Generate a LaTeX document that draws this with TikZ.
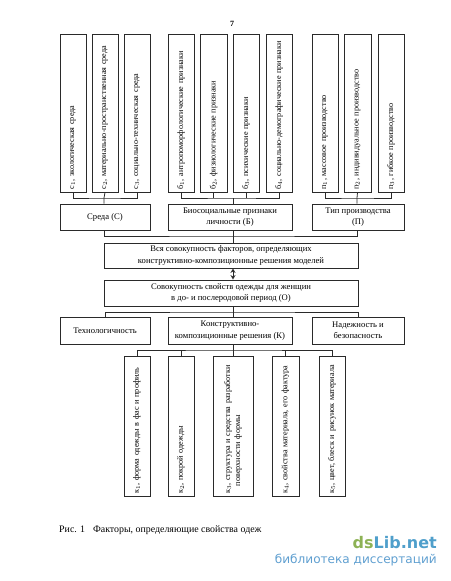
\documentclass[tikz,border=0pt]{standalone}
\usepackage{fontspec}
\setmainfont{Liberation Serif}
\newfontfamily\logofont{DejaVu Sans}
\definecolor{lineink}{HTML}{2A2A2A}
\definecolor{logogreen}{HTML}{8DB255}
\definecolor{logoblue}{HTML}{4F9FCB}
\definecolor{logolight}{HTML}{5F9FD0}
\usetikzlibrary{arrows.meta}
\tikzset{
  hbox/.style={draw=lineink,line width=0.9pt,align=center,inner sep=0pt,font=\fontsize{8.6}{11.3}\selectfont},
  vbox/.style={draw=lineink,line width=0.9pt,rotate=90,align=left,inner sep=0pt,font=\fontsize{8.15}{10}\selectfont},
  wire/.style={draw=lineink,line width=0.8pt},
}
\newcommand{\hb}[6]{\node[hbox,minimum width=#4pt-#2pt,minimum height=#5pt-#3pt] (#1) at ({(#2+#4)/2},{(#3+#5)/2}) {#6};}
\newcommand{\vb}[6]{\node[vbox,minimum height=#4pt-#2pt,minimum width=#5pt-#3pt,text width=#5pt-#3pt-5pt] (#1) at ({(#2+#4)/2},{(#3+#5)/2}) {#6};}
\begin{document}
\begin{tikzpicture}[x=1pt,y=-1pt]
\useasboundingbox (0,0) rectangle (450,581);
\node[font=\fontsize{8}{10}\selectfont\bfseries] (pg) at (232,24) {7};
\vb{c1}{60}{34}{86}{192}{с$_1$, экологическая среда}
\vb{c2}{92}{34}{118}{192}{с$_2$, материально-пространственная среда}
\vb{c3}{124}{34}{150}{192}{с$_3$, социально-техническая среда}
\vb{b1}{168}{34}{194}{192}{б$_1$, антропоморфологические признаки}
\vb{b2}{200}{34}{227}{192}{б$_2$, физиологические признаки}
\vb{b3}{233}{34}{259}{192}{б$_3$, психические признаки}
\vb{b4}{266}{34}{292}{192}{б$_4$, социально-демографические признаки}
\vb{p1}{312}{34}{338}{192}{п$_1$, массовое производство}
\vb{p2}{344}{34}{371}{192}{п$_2$, индивидуальное производство}
\vb{p3}{378}{34}{404}{192}{п$_3$, гибкое производство}
\hb{S}{60}{204}{150}{230}{Среда (С)}
\hb{B}{168}{204}{292}{230}{Биосоциальные признаки\\личности (Б)}
\hb{P}{312}{204}{404}{230}{Тип производства\\(П)}
\hb{V}{104}{243}{358}{268}{Вся совокупность факторов, определяющих\\конструктивно-композиционные решения моделей}
\hb{O}{104}{280}{358}{306}{Совокупность свойств одежды для женщин\\в до- и послеродовой период (О)}
\hb{T}{60}{317}{150}{344}{Технологичность}
\hb{K}{168}{317}{292}{344}{Конструктивно-\\композиционные решения (К)}
\hb{N}{312}{317}{404}{344}{Надежность и\\безопасность}
\vb{k1}{124}{356}{150}{496}{к$_1$, форма одежды в фас и профиль}
\vb{k2}{168}{356}{194}{496}{к$_2$, покрой одежды}
\vb{k3}{213}{356}{253}{496}{к$_3$, структура и средства разработки\\\hspace*{0.9em}поверхности формы}
\vb{k4}{272}{356}{299}{496}{к$_4$, свойства материала, его фактура}
\vb{k5}{319}{356}{345}{496}{к$_5$, цвет, блеск и рисунок материала}
\coordinate (jc) at (104,198);
\coordinate (jb) at (233,198);
\coordinate (jp) at (357,198);
\coordinate (jm) at (233,236);
\coordinate (jo) at (233,312);
\coordinate (jk) at (233,350);
\draw[wire] (c1.west) |- (jc) -| (c3.west);
\draw[wire] (c2.west) -- (jc) -- (jc |- S.north);
\draw[wire] (b1.west) |- (jb) -| (b4.west);
\draw[wire] (b2.west) -- (b2.west |- jb);
\draw[wire] (b3.west) -- (b3.west |- jb);
\draw[wire] (jb) -- (jb |- B.north);
\draw[wire] (p1.west) |- (jp) -| (p3.west);
\draw[wire] (p2.west) -- (jp) -- (jp |- P.north);
\draw[wire] (S.south -| jc) |- (jm) -| (P.south -| jp);
\draw[wire] (B.south -| jm) -- (jm |- V.north);
\draw[wire,{Stealth[length=4.5pt,width=5pt,open]}-{Stealth[length=4.5pt,width=5pt,open]}] (V.south -| jm) -- (O.north -| jm);
\draw[wire] (O.south -| jo) -- (K.north -| jo);
\draw[wire] (T.north) |- (jo) -| (N.north);
\draw[wire] (K.south -| jk) -- (k3.east);
\draw[wire] (k1.east) |- (jk) -| (k5.east);
\draw[wire] (k2.east) -- (k2.east |- jk);
\draw[wire] (k4.east) -- (k4.east |- jk);
\node[anchor=west,inner sep=0pt,font=\fontsize{9.9}{12}\selectfont] (cap) at (59,530) {Рис. 1\hspace{0.8em}Факторы, определяющие свойства одеж};
\node[anchor=east,inner sep=0pt,font=\logofont\bfseries\fontsize{16}{18}\selectfont] (logo) at (437,543) {\textcolor{logogreen}{ds}\textcolor{logoblue}{Lib.net}};
\node[anchor=east,inner sep=0pt,font=\logofont\fontsize{12.1}{14}\selectfont,text=logolight] (logo2) at (437,560) {библиотека диссертаций};
\end{tikzpicture}
\end{document}
